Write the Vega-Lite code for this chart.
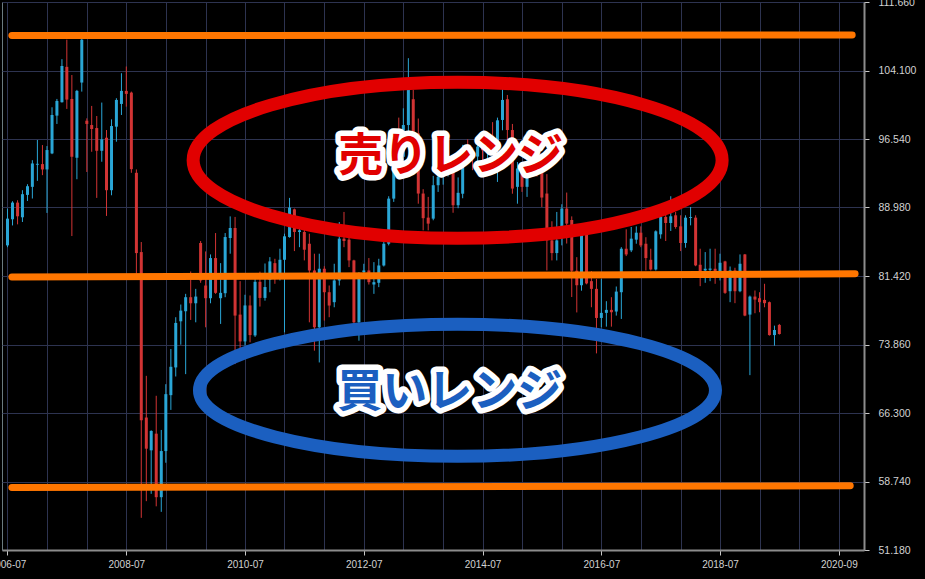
{
  "$schema": "https://vega.github.io/schema/vega-lite/v6.json",
  "width": 862,
  "height": 548,
  "autosize": {"type": "none"},
  "padding": {"left": 2, "top": 2, "right": 61, "bottom": 29},
  "background": "#000000",
  "config": {
    "view": {"stroke": "#6b7b80", "strokeWidth": 1},
    "axis": {
      "gridColor": "#2d3350",
      "gridWidth": 1,
      "gridOpacity": 1,
      "domainColor": "#8c8c8c",
      "domainWidth": 2,
      "tickColor": "#c8c8c8",
      "tickSize": 5,
      "labelColor": "#d2d2d2",
      "labelFont": "Liberation Sans",
      "labelFontSize": 10,
      "title": null
    }
  },
  "datasets": {
    "candles": [
      {"date": "2006-07-01", "open": 84.8, "high": 88.86, "low": 84.6, "close": 87.75},
      {"date": "2006-08-01", "open": 87.68, "high": 89.67, "low": 87.0, "close": 89.52},
      {"date": "2006-09-01", "open": 89.52, "high": 89.78, "low": 87.12, "close": 88.01},
      {"date": "2006-10-01", "open": 87.9, "high": 90.89, "low": 87.38, "close": 90.45},
      {"date": "2006-11-01", "open": 90.37, "high": 91.55, "low": 89.7, "close": 91.33},
      {"date": "2006-12-01", "open": 91.26, "high": 94.2, "low": 89.97, "close": 93.84},
      {"date": "2007-01-01", "open": 93.7, "high": 96.43, "low": 91.92, "close": 93.8},
      {"date": "2007-02-01", "open": 93.77, "high": 95.87, "low": 92.55, "close": 93.18},
      {"date": "2007-03-01", "open": 93.18, "high": 95.76, "low": 88.38, "close": 95.32},
      {"date": "2007-04-01", "open": 94.95, "high": 100.04, "low": 94.87, "close": 99.19},
      {"date": "2007-05-01", "open": 99.12, "high": 100.96, "low": 98.2, "close": 100.74},
      {"date": "2007-06-01", "open": 100.6, "high": 105.35, "low": 100.56, "close": 104.6},
      {"date": "2007-07-01", "open": 104.5, "high": 107.5, "low": 99.86, "close": 100.89},
      {"date": "2007-08-01", "open": 100.96, "high": 103.6, "low": 85.83, "close": 94.58},
      {"date": "2007-09-01", "open": 94.47, "high": 101.96, "low": 92.1, "close": 101.85},
      {"date": "2007-10-01", "open": 102.77, "high": 108.0, "low": 101.77, "close": 107.5},
      {"date": "2007-11-01", "open": 98.56, "high": 98.82, "low": 92.9, "close": 98.2},
      {"date": "2007-12-01", "open": 98.08, "high": 100.19, "low": 95.13, "close": 97.64},
      {"date": "2008-01-01", "open": 97.75, "high": 99.08, "low": 90.04, "close": 95.24},
      {"date": "2008-02-01", "open": 95.24, "high": 100.56, "low": 94.03, "close": 96.5},
      {"date": "2008-03-01", "open": 96.68, "high": 97.53, "low": 88.05, "close": 90.89},
      {"date": "2008-04-01", "open": 90.89, "high": 98.71, "low": 90.33, "close": 97.97},
      {"date": "2008-05-01", "open": 97.9, "high": 101.04, "low": 96.24, "close": 100.85},
      {"date": "2008-06-01", "open": 100.41, "high": 103.8, "low": 99.19, "close": 101.85},
      {"date": "2008-07-01", "open": 101.85, "high": 104.54, "low": 100.11, "close": 101.52},
      {"date": "2008-08-01", "open": 101.66, "high": 101.77, "low": 92.81, "close": 93.21},
      {"date": "2008-09-01", "open": 92.81, "high": 93.18, "low": 81.66, "close": 83.95},
      {"date": "2008-10-01", "open": 84.06, "high": 85.17, "low": 54.73, "close": 65.5},
      {"date": "2008-11-01", "open": 65.8, "high": 70.4, "low": 56.57, "close": 62.36},
      {"date": "2008-12-01", "open": 62.18, "high": 64.39, "low": 57.38, "close": 64.32},
      {"date": "2009-01-01", "open": 64.02, "high": 68.2, "low": 56.0, "close": 57.01},
      {"date": "2009-02-01", "open": 57.01, "high": 64.43, "low": 55.39, "close": 62.1},
      {"date": "2009-03-01", "open": 62.1, "high": 69.48, "low": 60.81, "close": 68.38},
      {"date": "2009-04-01", "open": 68.27, "high": 73.36, "low": 66.64, "close": 71.4},
      {"date": "2009-05-01", "open": 71.33, "high": 76.87, "low": 70.33, "close": 76.24},
      {"date": "2009-06-01", "open": 76.42, "high": 78.27, "low": 73.84, "close": 77.6},
      {"date": "2009-07-01", "open": 77.53, "high": 79.45, "low": 70.59, "close": 79.08},
      {"date": "2009-08-01", "open": 79.08, "high": 81.92, "low": 76.57, "close": 78.41},
      {"date": "2009-09-01", "open": 78.41, "high": 80.0, "low": 76.31, "close": 79.15},
      {"date": "2009-10-01", "open": 85.06, "high": 85.28, "low": 80.67, "close": 80.93},
      {"date": "2009-11-01", "open": 80.37, "high": 84.13, "low": 75.76, "close": 78.97},
      {"date": "2009-12-01", "open": 78.97, "high": 83.8, "low": 78.41, "close": 83.4},
      {"date": "2010-01-01", "open": 83.4, "high": 86.16, "low": 79.45, "close": 79.56},
      {"date": "2010-02-01", "open": 78.97, "high": 82.84, "low": 76.13, "close": 79.56},
      {"date": "2010-03-01", "open": 79.52, "high": 86.16, "low": 79.08, "close": 85.72},
      {"date": "2010-04-01", "open": 85.61, "high": 88.0, "low": 83.88, "close": 86.72},
      {"date": "2010-05-01", "open": 86.72, "high": 87.94, "low": 71.7, "close": 77.05},
      {"date": "2010-06-01", "open": 77.16, "high": 80.85, "low": 73.2, "close": 74.2},
      {"date": "2010-07-01", "open": 74.2, "high": 79.35, "low": 73.75, "close": 78.17},
      {"date": "2010-08-01", "open": 78.17, "high": 79.27, "low": 74.1, "close": 74.9},
      {"date": "2010-09-01", "open": 74.86, "high": 81.3, "low": 74.7, "close": 80.78},
      {"date": "2010-10-01", "open": 80.78, "high": 81.9, "low": 78.05, "close": 79.0},
      {"date": "2010-11-01", "open": 79.0, "high": 82.8, "low": 78.7, "close": 80.2},
      {"date": "2010-12-01", "open": 81.0, "high": 83.5, "low": 79.63, "close": 83.03},
      {"date": "2011-01-01", "open": 82.84, "high": 83.32, "low": 80.56, "close": 81.74},
      {"date": "2011-02-01", "open": 81.74, "high": 84.43, "low": 80.93, "close": 83.21},
      {"date": "2011-03-01", "open": 83.21, "high": 86.09, "low": 75.2, "close": 85.8},
      {"date": "2011-04-01", "open": 85.72, "high": 90.04, "low": 85.65, "close": 88.97},
      {"date": "2011-05-01", "open": 88.78, "high": 88.86, "low": 84.17, "close": 86.28},
      {"date": "2011-06-01", "open": 86.28, "high": 86.65, "low": 84.6, "close": 86.46},
      {"date": "2011-07-01", "open": 86.28, "high": 86.83, "low": 83.14, "close": 84.32},
      {"date": "2011-08-01", "open": 84.98, "high": 86.09, "low": 76.31, "close": 82.03},
      {"date": "2011-09-01", "open": 82.03, "high": 83.88, "low": 73.18, "close": 75.76},
      {"date": "2011-10-01", "open": 75.76, "high": 83.88, "low": 71.88, "close": 82.22},
      {"date": "2011-11-01", "open": 82.22, "high": 82.5, "low": 76.5, "close": 79.63},
      {"date": "2011-12-01", "open": 79.63, "high": 80.37, "low": 76.87, "close": 78.16},
      {"date": "2012-01-01", "open": 78.53, "high": 82.77, "low": 77.97, "close": 80.93},
      {"date": "2012-02-01", "open": 80.93, "high": 87.38, "low": 80.37, "close": 85.54},
      {"date": "2012-03-01", "open": 85.54, "high": 88.49, "low": 84.6, "close": 85.28},
      {"date": "2012-04-01", "open": 85.43, "high": 86.09, "low": 82.4, "close": 83.14},
      {"date": "2012-05-01", "open": 83.14, "high": 83.21, "low": 76.13, "close": 76.31},
      {"date": "2012-06-01", "open": 76.31, "high": 81.85, "low": 74.28, "close": 81.29},
      {"date": "2012-07-01", "open": 81.85, "high": 82.77, "low": 81.29, "close": 82.03},
      {"date": "2012-08-01", "open": 82.03, "high": 83.4, "low": 80.48, "close": 80.74},
      {"date": "2012-09-01", "open": 80.48, "high": 82.95, "low": 79.45, "close": 80.74},
      {"date": "2012-10-01", "open": 80.67, "high": 83.32, "low": 80.19, "close": 82.58},
      {"date": "2012-11-01", "open": 82.58, "high": 86.46, "low": 82.47, "close": 84.98},
      {"date": "2012-12-01", "open": 84.98, "high": 90.22, "low": 84.8, "close": 89.96},
      {"date": "2013-01-01", "open": 89.96, "high": 95.7, "low": 89.6, "close": 95.0},
      {"date": "2013-02-01", "open": 95.0, "high": 98.9, "low": 93.3, "close": 94.6},
      {"date": "2013-03-01", "open": 94.58, "high": 99.93, "low": 94.0, "close": 98.08},
      {"date": "2013-04-01", "open": 98.08, "high": 105.46, "low": 95.6, "close": 101.96},
      {"date": "2013-05-01", "open": 100.93, "high": 101.97, "low": 95.8, "close": 97.16},
      {"date": "2013-06-01", "open": 97.16, "high": 98.8, "low": 89.4, "close": 90.52},
      {"date": "2013-07-01", "open": 90.52, "high": 91.0, "low": 86.46, "close": 87.8},
      {"date": "2013-08-01", "open": 87.86, "high": 90.15, "low": 86.46, "close": 87.2},
      {"date": "2013-09-01", "open": 87.75, "high": 92.47, "low": 87.57, "close": 91.44},
      {"date": "2013-10-01", "open": 91.44, "high": 93.84, "low": 90.7, "close": 92.36},
      {"date": "2013-11-01", "open": 92.36, "high": 95.5, "low": 91.5, "close": 93.3},
      {"date": "2013-12-01", "open": 93.3, "high": 95.3, "low": 92.4, "close": 94.0},
      {"date": "2014-01-01", "open": 94.0, "high": 94.7, "low": 88.4, "close": 89.23},
      {"date": "2014-02-01", "open": 89.23, "high": 92.3, "low": 88.9, "close": 90.6},
      {"date": "2014-03-01", "open": 90.5, "high": 95.9, "low": 90.0, "close": 95.0},
      {"date": "2014-04-01", "open": 95.0, "high": 96.5, "low": 93.9, "close": 94.8},
      {"date": "2014-05-01", "open": 94.8, "high": 95.6, "low": 93.1, "close": 94.6},
      {"date": "2014-06-01", "open": 94.6, "high": 96.4, "low": 93.8, "close": 95.7},
      {"date": "2014-07-01", "open": 95.7, "high": 96.2, "low": 94.2, "close": 95.3},
      {"date": "2014-08-01", "open": 95.3, "high": 97.3, "low": 94.3, "close": 96.9},
      {"date": "2014-09-01", "open": 96.9, "high": 98.4, "low": 94.8, "close": 96.1},
      {"date": "2014-10-01", "open": 96.1, "high": 98.9, "low": 91.8, "close": 98.6},
      {"date": "2014-11-01", "open": 98.64, "high": 102.03, "low": 97.5, "close": 100.85},
      {"date": "2014-12-01", "open": 100.93, "high": 101.4, "low": 95.5, "close": 97.53},
      {"date": "2015-01-01", "open": 97.53, "high": 98.2, "low": 90.5, "close": 91.07},
      {"date": "2015-02-01", "open": 91.26, "high": 94.0, "low": 89.4, "close": 93.29},
      {"date": "2015-03-01", "open": 93.0, "high": 94.0, "low": 90.7, "close": 91.26},
      {"date": "2015-04-01", "open": 91.26, "high": 97.35, "low": 90.15, "close": 93.84},
      {"date": "2015-05-01", "open": 93.84, "high": 96.5, "low": 92.8, "close": 95.0},
      {"date": "2015-06-01", "open": 95.0, "high": 95.8, "low": 92.4, "close": 93.1},
      {"date": "2015-07-01", "open": 93.1, "high": 93.84, "low": 89.04, "close": 90.08},
      {"date": "2015-08-01", "open": 90.52, "high": 92.66, "low": 82.03, "close": 85.35},
      {"date": "2015-09-01", "open": 85.35, "high": 87.46, "low": 83.14, "close": 83.95},
      {"date": "2015-10-01", "open": 83.95, "high": 88.49, "low": 83.14, "close": 85.35},
      {"date": "2015-11-01", "open": 85.72, "high": 89.34, "low": 84.8, "close": 88.86},
      {"date": "2015-12-01", "open": 88.86, "high": 90.63, "low": 85.0, "close": 87.2},
      {"date": "2016-01-01", "open": 87.6, "high": 88.0, "low": 79.1, "close": 82.0},
      {"date": "2016-02-01", "open": 82.0, "high": 83.5, "low": 77.4, "close": 80.4},
      {"date": "2016-03-01", "open": 80.4, "high": 86.3, "low": 79.8, "close": 86.1},
      {"date": "2016-04-01", "open": 86.0, "high": 86.3, "low": 80.5, "close": 80.6},
      {"date": "2016-05-01", "open": 80.85, "high": 81.96, "low": 77.97, "close": 80.0},
      {"date": "2016-06-01", "open": 80.0, "high": 81.1, "low": 72.88, "close": 76.79},
      {"date": "2016-07-01", "open": 76.79, "high": 81.1, "low": 75.76, "close": 77.35},
      {"date": "2016-08-01", "open": 77.35, "high": 78.64, "low": 75.83, "close": 77.68},
      {"date": "2016-09-01", "open": 77.68, "high": 79.08, "low": 75.83, "close": 77.42},
      {"date": "2016-10-01", "open": 77.5, "high": 80.26, "low": 77.05, "close": 79.7},
      {"date": "2016-11-01", "open": 79.63, "high": 84.6, "low": 76.68, "close": 84.43},
      {"date": "2016-12-01", "open": 84.43, "high": 86.57, "low": 83.62, "close": 83.8},
      {"date": "2017-01-01", "open": 84.25, "high": 86.83, "low": 84.06, "close": 85.54},
      {"date": "2017-02-01", "open": 85.43, "high": 86.9, "low": 84.98, "close": 86.2},
      {"date": "2017-03-01", "open": 86.2, "high": 86.9, "low": 84.6, "close": 84.8},
      {"date": "2017-04-01", "open": 84.98, "high": 85.7, "low": 82.03, "close": 83.4},
      {"date": "2017-05-01", "open": 83.21, "high": 84.43, "low": 82.03, "close": 82.14},
      {"date": "2017-06-01", "open": 82.14, "high": 86.46, "low": 82.03, "close": 86.35},
      {"date": "2017-07-01", "open": 86.02, "high": 88.49, "low": 85.54, "close": 87.94},
      {"date": "2017-08-01", "open": 87.94, "high": 88.49, "low": 85.28, "close": 87.27},
      {"date": "2017-09-01", "open": 87.27, "high": 90.22, "low": 86.39, "close": 88.01},
      {"date": "2017-10-01", "open": 88.12, "high": 88.49, "low": 86.64, "close": 86.83},
      {"date": "2017-11-01", "open": 86.9, "high": 88.12, "low": 84.17, "close": 85.06},
      {"date": "2017-12-01", "open": 85.06, "high": 88.12, "low": 84.54, "close": 87.86},
      {"date": "2018-01-01", "open": 87.82, "high": 89.04, "low": 87.01, "close": 87.92},
      {"date": "2018-02-01", "open": 87.86, "high": 88.12, "low": 82.5, "close": 82.59},
      {"date": "2018-03-01", "open": 82.66, "high": 84.43, "low": 80.3, "close": 81.85},
      {"date": "2018-04-01", "open": 82.03, "high": 84.06, "low": 80.67, "close": 82.22},
      {"date": "2018-05-01", "open": 82.1, "high": 84.43, "low": 80.85, "close": 82.24},
      {"date": "2018-06-01", "open": 82.22, "high": 84.43, "low": 80.56, "close": 81.85},
      {"date": "2018-07-01", "open": 81.66, "high": 83.88, "low": 80.93, "close": 82.88},
      {"date": "2018-08-01", "open": 83.03, "high": 83.1, "low": 79.45, "close": 79.56},
      {"date": "2018-09-01", "open": 79.74, "high": 82.47, "low": 78.53, "close": 82.03},
      {"date": "2018-10-01", "open": 82.03, "high": 82.33, "low": 78.42, "close": 79.74},
      {"date": "2018-11-01", "open": 79.74, "high": 83.8, "low": 79.63, "close": 82.77},
      {"date": "2018-12-01", "open": 83.8, "high": 83.85, "low": 76.98, "close": 77.05},
      {"date": "2019-01-01", "open": 77.16, "high": 79.26, "low": 70.48, "close": 79.15},
      {"date": "2019-02-01", "open": 79.15, "high": 79.82, "low": 77.31, "close": 78.82},
      {"date": "2019-03-01", "open": 78.97, "high": 79.63, "low": 77.42, "close": 78.53},
      {"date": "2019-04-01", "open": 78.78, "high": 80.56, "low": 77.97, "close": 78.42},
      {"date": "2019-05-01", "open": 78.53, "high": 78.6, "low": 74.84, "close": 74.9},
      {"date": "2019-06-01", "open": 74.9, "high": 75.94, "low": 73.73, "close": 75.46},
      {"date": "2019-07-01", "open": 76.02, "high": 76.13, "low": 74.95, "close": 75.02}
    ],
    "levels": [
      {"start": "2006-07-28", "end": "2020-09-21", "startPrice": 107.95, "endPrice": 108.02},
      {"start": "2006-07-28", "end": "2020-10-09", "startPrice": 81.3, "endPrice": 81.66},
      {"start": "2006-07-28", "end": "2020-09-09", "startPrice": 58.08, "endPrice": 58.27}
    ],
    "zones": [
      {"zone": "売りレンジ", "centerDate": "2014-01-29", "centerPrice": 94.19, "labelDate": "2013-12-18", "labelPrice": 94.58},
      {"zone": "買いレンジ", "centerDate": "2014-01-28", "centerPrice": 68.81, "labelDate": "2013-12-12", "labelPrice": 68.53}
    ]
  },
  "layer": [
    {
      "data": {"name": "candles"},
      "mark": {"type": "rule", "strokeWidth": 1},
      "encoding": {
        "x": {
          "field": "date",
          "type": "temporal",
          "title": null,
          "scale": {
            "type": "utc",
            "nice": false,
            "domain": [
              {"year": 2006, "month": 6, "date": 28, "utc": true},
              {"year": 2020, "month": 11, "date": 2, "utc": true}
            ]
          },
          "axis": {
            "orient": "bottom",
            "grid": true,
            "values": [
              {"year": 2006, "month": 7, "date": 1, "utc": true},
              {"year": 2006, "month": 11, "date": 1, "utc": true},
              {"year": 2007, "month": 3, "date": 1, "utc": true},
              {"year": 2007, "month": 7, "date": 1, "utc": true},
              {"year": 2007, "month": 11, "date": 1, "utc": true},
              {"year": 2008, "month": 3, "date": 1, "utc": true},
              {"year": 2008, "month": 7, "date": 1, "utc": true},
              {"year": 2008, "month": 11, "date": 1, "utc": true},
              {"year": 2009, "month": 3, "date": 1, "utc": true},
              {"year": 2009, "month": 7, "date": 1, "utc": true},
              {"year": 2009, "month": 11, "date": 1, "utc": true},
              {"year": 2010, "month": 3, "date": 1, "utc": true},
              {"year": 2010, "month": 7, "date": 1, "utc": true},
              {"year": 2010, "month": 11, "date": 1, "utc": true},
              {"year": 2011, "month": 3, "date": 1, "utc": true},
              {"year": 2011, "month": 7, "date": 1, "utc": true},
              {"year": 2011, "month": 11, "date": 1, "utc": true},
              {"year": 2012, "month": 3, "date": 1, "utc": true},
              {"year": 2012, "month": 7, "date": 1, "utc": true},
              {"year": 2012, "month": 11, "date": 1, "utc": true},
              {"year": 2013, "month": 3, "date": 1, "utc": true},
              {"year": 2013, "month": 7, "date": 1, "utc": true},
              {"year": 2013, "month": 11, "date": 1, "utc": true},
              {"year": 2014, "month": 3, "date": 1, "utc": true},
              {"year": 2014, "month": 7, "date": 1, "utc": true},
              {"year": 2014, "month": 11, "date": 1, "utc": true},
              {"year": 2015, "month": 3, "date": 1, "utc": true},
              {"year": 2015, "month": 7, "date": 1, "utc": true},
              {"year": 2015, "month": 11, "date": 1, "utc": true},
              {"year": 2016, "month": 3, "date": 1, "utc": true},
              {"year": 2016, "month": 7, "date": 1, "utc": true},
              {"year": 2016, "month": 11, "date": 1, "utc": true},
              {"year": 2017, "month": 3, "date": 1, "utc": true},
              {"year": 2017, "month": 7, "date": 1, "utc": true},
              {"year": 2017, "month": 11, "date": 1, "utc": true},
              {"year": 2018, "month": 3, "date": 1, "utc": true},
              {"year": 2018, "month": 7, "date": 1, "utc": true},
              {"year": 2018, "month": 11, "date": 1, "utc": true},
              {"year": 2019, "month": 3, "date": 1, "utc": true},
              {"year": 2019, "month": 7, "date": 1, "utc": true},
              {"year": 2019, "month": 11, "date": 1, "utc": true},
              {"year": 2020, "month": 3, "date": 1, "utc": true},
              {"year": 2020, "month": 7, "date": 1, "utc": true}
            ],
            "labelExpr": "(utcmonth(datum.value) == 6 && (utcyear(datum.value) - 2006) % 2 == 0) ? (utcyear(datum.value) == 2020 ? '2020-09' : utcFormat(datum.value, '%Y-%m')) : ''",
            "tickOpacity": {"condition": {"test": "utcmonth(datum.value) == 6 && (utcyear(datum.value) - 2006) % 2 == 0", "value": 1}, "value": 0},
            "labelPadding": 4,
            "labelFlush": false,
            "labelOverlap": false,
            "labelBound": false
          }
        },
        "y": {
          "field": "low",
          "type": "quantitative",
          "title": null,
          "scale": {"domain": [51.18, 111.66], "nice": false, "zero": false},
          "axis": {
            "orient": "right",
            "grid": true,
            "values": [51.18, 58.74, 66.3, 73.86, 81.42, 88.98, 96.54, 104.1, 111.66],
            "format": ".3f",
            "labelPadding": 9,
            "labelFlush": false,
            "labelOverlap": false,
            "labelBound": false,
            "labelFontSize": 10.5
          }
        },
        "y2": {"field": "high"},
        "color": {"condition": {"test": "datum.close >= datum.open", "value": "#2aa6d6"}, "value": "#d23434"}
      }
    },
    {
      "data": {"name": "candles"},
      "mark": {"type": "bar", "size": 3},
      "encoding": {
        "x": {"field": "date", "type": "temporal", "title": null},
        "y": {"field": "open", "type": "quantitative", "title": null},
        "y2": {"field": "close"},
        "color": {"condition": {"test": "datum.close >= datum.open", "value": "#2aa6d6"}, "value": "#d23434"}
      }
    },
    {
      "data": {"name": "levels"},
      "mark": {"type": "rule", "strokeWidth": 7, "strokeCap": "round", "color": "#ff7600"},
      "encoding": {
        "x": {"field": "start", "type": "temporal", "title": null},
        "x2": {"field": "end"},
        "y": {"field": "startPrice", "type": "quantitative", "title": null},
        "y2": {"field": "endPrice"}
      }
    },
    {
      "data": {"name": "zones"},
      "transform": [{"filter": "datum.zone == '売りレンジ'"}],
      "mark": {
        "type": "point",
        "filled": false,
        "opacity": 1,
        "strokeWidth": 13,
        "size": 279841,
        "color": "#e10000",
        "shape": "M 1 0 C 1 0.1629 0.5523 0.295 0 0.295 C -0.5523 0.295 -1 0.1629 -1 0 C -1 -0.1629 -0.5523 -0.295 0 -0.295 C 0.5523 -0.295 1 -0.1629 1 0 Z"
      },
      "encoding": {
        "x": {"field": "centerDate", "type": "temporal", "title": null},
        "y": {"field": "centerPrice", "type": "quantitative", "title": null}
      }
    },
    {
      "data": {"name": "zones"},
      "transform": [{"filter": "datum.zone == '買いレンジ'"}],
      "mark": {
        "type": "point",
        "filled": false,
        "opacity": 1,
        "strokeWidth": 13,
        "size": 266256,
        "color": "#1b5fc0",
        "shape": "M 1 0 C 1 0.1414 0.5523 0.256 0 0.256 C -0.5523 0.256 -1 0.1414 -1 0 C -1 -0.1414 -0.5523 -0.256 0 -0.256 C 0.5523 -0.256 1 -0.1414 1 0 Z"
      },
      "encoding": {
        "x": {"field": "centerDate", "type": "temporal", "title": null},
        "y": {"field": "centerPrice", "type": "quantitative", "title": null}
      }
    },
    {
      "data": {"name": "zones"},
      "mark": {
        "type": "text",
        "font": "Noto Sans CJK JP",
        "fontWeight": "bold",
        "fontSize": 45,
        "align": "center",
        "baseline": "middle",
        "color": "#ffffff",
        "stroke": "#ffffff",
        "strokeWidth": 11,
        "strokeJoin": "round"
      },
      "encoding": {
        "x": {"field": "labelDate", "type": "temporal", "title": null},
        "y": {"field": "labelPrice", "type": "quantitative", "title": null},
        "text": {"field": "zone"}
      }
    },
    {
      "data": {"name": "zones"},
      "mark": {
        "type": "text",
        "font": "Noto Sans CJK JP",
        "fontWeight": "bold",
        "fontSize": 45,
        "align": "center",
        "baseline": "middle"
      },
      "encoding": {
        "x": {"field": "labelDate", "type": "temporal", "title": null},
        "y": {"field": "labelPrice", "type": "quantitative", "title": null},
        "text": {"field": "zone"},
        "color": {
          "field": "zone",
          "type": "nominal",
          "scale": {"domain": ["売りレンジ", "買いレンジ"], "range": ["#e10000", "#1b5fc0"]},
          "legend": null
        }
      }
    }
  ]
}
